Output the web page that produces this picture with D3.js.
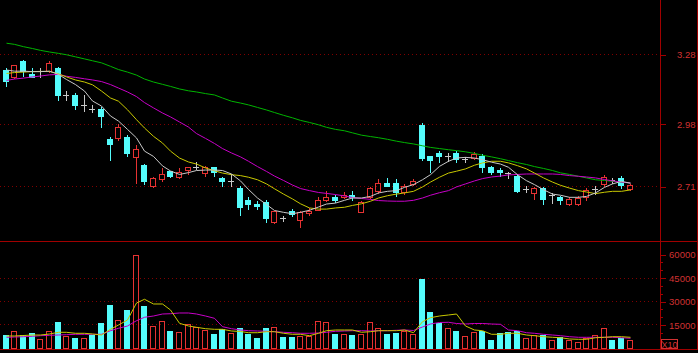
<!DOCTYPE html>
<html>
<head>
<meta charset="utf-8">
<script src="https://cdn.jsdelivr.net/npm/d3@7"></script>
<style>
  html, body { margin: 0; padding: 0; background: #000; overflow: hidden; }
  svg { display: block; }
</style>
</head>
<body>
<div id="chart"></div>
<script>
// daily candles, oldest first
const opens = [3.211, 3.180, 3.250, 3.196, 3.206, 3.206, 3.221, 3.103, 3.103, 3.062,
  3.045, 3.045, 2.913, 2.918, 2.922, 2.837, 2.802, 2.710, 2.742, 2.773,
  2.751, 2.781, 2.794, 2.768, 2.791, 2.743, 2.733, 2.701, 2.649, 2.633,
  2.641, 2.553, 2.570, 2.602, 2.562, 2.592, 2.607, 2.648, 2.661, 2.661,
  2.672, 2.599, 2.661, 2.690, 2.722, 2.722, 2.684, 2.719, 2.973, 2.841,
  2.853, 2.841, 2.853, 2.829, 2.831, 2.841, 2.791, 2.781, 2.765, 2.753,
  2.696, 2.681, 2.703, 2.671, 2.662, 2.630, 2.630, 2.661, 2.698, 2.717,
  2.735, 2.743, 2.698];
const highs = [3.221, 3.235, 3.255, 3.221, 3.221, 3.250, 3.225, 3.122, 3.113, 3.103,
  3.062, 3.051, 2.922, 2.978, 2.932, 2.889, 2.805, 2.750, 2.788, 2.775,
  2.788, 2.792, 2.812, 2.797, 2.794, 2.747, 2.760, 2.709, 2.661, 2.644,
  2.651, 2.603, 2.582, 2.610, 2.603, 2.615, 2.661, 2.687, 2.672, 2.684,
  2.690, 2.643, 2.706, 2.740, 2.745, 2.742, 2.719, 2.740, 2.981, 2.842,
  2.863, 2.853, 2.863, 2.835, 2.855, 2.849, 2.797, 2.790, 2.771, 2.762,
  2.712, 2.706, 2.706, 2.678, 2.667, 2.661, 2.665, 2.700, 2.710, 2.758,
  2.745, 2.754, 2.719];
const lows = [3.142, 3.178, 3.185, 3.180, 3.182, 3.203, 3.084, 3.084, 3.045, 3.033,
  3.030, 2.964, 2.824, 2.910, 2.841, 2.723, 2.719, 2.704, 2.733, 2.750,
  2.745, 2.764, 2.784, 2.753, 2.753, 2.712, 2.712, 2.584, 2.612, 2.612,
  2.553, 2.551, 2.560, 2.582, 2.533, 2.583, 2.606, 2.647, 2.641, 2.658,
  2.651, 2.597, 2.658, 2.680, 2.708, 2.665, 2.675, 2.716, 2.824, 2.771,
  2.814, 2.820, 2.814, 2.814, 2.827, 2.769, 2.761, 2.752, 2.743, 2.682,
  2.684, 2.652, 2.634, 2.635, 2.634, 2.629, 2.629, 2.649, 2.675, 2.710,
  2.723, 2.703, 2.693];
const closes = [3.166, 3.232, 3.206, 3.183, 3.206, 3.242, 3.103, 3.103, 3.062, 3.062,
  3.045, 3.013, 2.893, 2.964, 2.853, 2.871, 2.730, 2.745, 2.762, 2.753,
  2.769, 2.791, 2.794, 2.791, 2.772, 2.733, 2.733, 2.621, 2.633, 2.622,
  2.572, 2.601, 2.570, 2.590, 2.599, 2.603, 2.649, 2.661, 2.651, 2.672,
  2.661, 2.641, 2.701, 2.722, 2.711, 2.684, 2.711, 2.733, 2.831, 2.824,
  2.841, 2.841, 2.825, 2.829, 2.850, 2.792, 2.769, 2.769, 2.765, 2.690,
  2.696, 2.703, 2.652, 2.671, 2.649, 2.652, 2.658, 2.693, 2.698, 2.751,
  2.735, 2.713, 2.714];
const volumes = [8100, 10900, 7900, 9200, 5500, 10900, 16500, 7300, 6400, 6400,
  7900, 15600, 27400, 17800, 24200, 59400, 27000, 13700, 17100, 10700,
  10000, 15400, 13100, 11300, 8600, 11800, 9200, 12600, 8900, 6400,
  12400, 13100, 6600, 7000, 7700, 7700, 16900, 16300, 8900, 8600,
  8100, 8600, 16300, 12400, 8600, 9600, 10900, 8900, 44200, 22900,
  15600, 12400, 10700, 7500, 10000, 10900, 5100, 9400, 10000, 10900,
  6400, 7900, 7900, 5100, 6800, 4900, 3800, 6400, 7900, 12400,
  5100, 6000, 5100];

// moving averages as shown by the terminal
const ma5 = [3.212, 3.207, 3.207, 3.205, 3.205, 3.207, 3.193, 3.171, 3.149, 3.121,
  3.078, 3.056, 3.013, 2.991, 2.955, 2.918, 2.861, 2.838, 2.797, 2.775,
  2.760, 2.768, 2.777, 2.779, 2.779, 2.777, 2.762, 2.732, 2.695, 2.658,
  2.630, 2.604, 2.596, 2.590, 2.596, 2.605, 2.619, 2.632, 2.636, 2.648,
  2.658, 2.658, 2.665, 2.680, 2.687, 2.690, 2.704, 2.716, 2.737, 2.759,
  2.795, 2.817, 2.831, 2.834, 2.831, 2.824, 2.813, 2.805, 2.791, 2.759,
  2.733, 2.716, 2.694, 2.675, 2.670, 2.661, 2.661, 2.665, 2.680, 2.704,
  2.719, 2.730, 2.722];
const ma10 = [3.197, 3.201, 3.203, 3.205, 3.206, 3.206, 3.195, 3.182, 3.169, 3.160,
  3.148, 3.121, 3.091, 3.077, 3.040, 2.997, 2.961, 2.925, 2.896, 2.861,
  2.831, 2.814, 2.805, 2.788, 2.776, 2.766, 2.759, 2.755, 2.748, 2.737,
  2.719, 2.698, 2.675, 2.654, 2.633, 2.615, 2.610, 2.610, 2.615, 2.618,
  2.626, 2.633, 2.644, 2.658, 2.668, 2.675, 2.680, 2.687, 2.706, 2.727,
  2.748, 2.766, 2.774, 2.784, 2.800, 2.810, 2.817, 2.817, 2.810, 2.798,
  2.784, 2.766, 2.745, 2.727, 2.713, 2.701, 2.690, 2.684, 2.677, 2.683,
  2.687, 2.687, 2.693];
const ma20 = [3.167, 3.173, 3.177, 3.182, 3.186, 3.191, 3.193, 3.185, 3.180, 3.174,
  3.169, 3.162, 3.149, 3.134, 3.117, 3.097, 3.071, 3.048, 3.026, 3.009,
  2.987, 2.965, 2.937, 2.916, 2.894, 2.872, 2.853, 2.836, 2.817, 2.794,
  2.773, 2.753, 2.734, 2.714, 2.699, 2.690, 2.682, 2.678, 2.673, 2.667,
  2.660, 2.656, 2.652, 2.647, 2.645, 2.644, 2.644, 2.648, 2.658, 2.670,
  2.681, 2.690, 2.706, 2.719, 2.732, 2.742, 2.749, 2.753, 2.758, 2.760,
  2.762, 2.762, 2.762, 2.762, 2.760, 2.755, 2.752, 2.749, 2.745, 2.738,
  2.732, 2.727, 2.723];
const ma60 = [3.328, 3.323, 3.313, 3.305, 3.297, 3.290, 3.284, 3.278, 3.269, 3.260,
  3.252, 3.243, 3.228, 3.214, 3.203, 3.190, 3.173, 3.160, 3.150, 3.141,
  3.130, 3.122, 3.117, 3.110, 3.104, 3.091, 3.077, 3.069, 3.061, 3.050,
  3.039, 3.028, 3.016, 3.005, 2.994, 2.985, 2.975, 2.964, 2.955, 2.949,
  2.940, 2.930, 2.924, 2.919, 2.912, 2.904, 2.898, 2.892, 2.884, 2.877,
  2.872, 2.867, 2.863, 2.858, 2.851, 2.843, 2.836, 2.828, 2.820, 2.811,
  2.803, 2.794, 2.786, 2.777, 2.767, 2.760, 2.752, 2.745, 2.737, 2.734,
  2.730, 2.727, 2.723];
const volMa5 = [7470, 7470, 7790, 8110, 8110, 8760, 9850, 9850, 9210, 9210,
  8760, 8110, 11780, 14550, 17770, 28710, 31100, 28070, 28070, 24210,
  15640, 13910, 13070, 12170, 11780, 11780, 10690, 10370, 9590, 9590,
  10240, 10240, 9210, 8560, 8560, 7660, 9210, 10880, 11330, 11330,
  11330, 9850, 10240, 10880, 10880, 10880, 11330, 9590, 16670, 19250,
  20340, 20990, 21630, 13910, 11330, 10880, 8560, 8560, 9210, 9210,
  8110, 7660, 7020, 6630, 6370, 5540, 5340, 5340, 6370, 6630,
  7020, 7020, 6630];
const volMa10 = [6630, 6820, 7020, 7270, 7660, 7920, 8110, 8310, 8560, 8560,
  8560, 8560, 10880, 12430, 13910, 17320, 19510, 20340, 21630, 21820,
  22280, 22280, 21630, 20340, 18860, 13460, 12170, 11330, 10880, 10690,
  10490, 10240, 9850, 9590, 9210, 9210, 9400, 9850, 10490, 10690,
  10880, 10880, 10690, 10880, 10880, 11140, 11330, 11010, 13260, 15190,
  16160, 16290, 15520, 15190, 15520, 15520, 15190, 15000, 11330, 10880,
  9590, 9210, 8560, 8110, 7660, 7020, 6630, 6630, 6630, 6630,
  6630, 6370, 5990];

const priceTicks = [3.28, 2.98, 2.71];
const volumeTicks = [15000, 30000, 45000, 60000];
const volumeGridTicks = [15000, 30000, 45000];
const volumeMinorTicks = [5000, 10000, 20000, 25000, 35000, 40000, 50000, 55000];

const colors = {
  up: '#e63232',
  down: '#54fcfc',
  flat: '#c8c8c8',
  axis: '#a00000',
  grid: '#800000',
  text: '#d23232',
  ma5: '#c8c8c8',
  ma10: '#c8c800',
  ma20: '#c800c8',
  ma60: '#00b400',
};

function drawChart(divId) {
  const width = 698;
  const height = 353;
  const axisX = 660;
  const divider = 241;
  const bottom = 350;
  const slots = 76; // room for a few more days on the right

  const svg = d3.select(`#${divId}`)
    .append('svg')
    .attr('width', width)
    .attr('height', height)
    .style('background', '#000');

  const x = d3.scaleBand()
    .domain(d3.range(slots))
    .range([1.5, axisX])
    .paddingInner(0.3)
    .paddingOuter(0.15);

  const yPrice = d3.scaleLinear()
    .domain([2.71, 3.28])
    .range([186, 54.3]);

  const yVol = d3.scaleLinear()
    .domain([0, 60000])
    .range([347.6, 254.4]);

  const cx = i => Math.round(x(i) + x.bandwidth() / 2);
  const py = v => Math.round(yPrice(v));
  const vy = v => Math.round(yVol(v));

  const candles = opens.map((o, i) => ({
    i,
    o,
    h: highs[i],
    l: lows[i],
    c: closes[i],
    v: volumes[i],
  }));
  const dir = d => (d.c > d.o ? 1 : (d.c < d.o ? -1 : 0));
  const volDir = (d) => {
    const k = dir(d);
    if (k !== 0) return k;
    return d.i > 0 && d.c < closes[d.i - 1] ? -1 : 1;
  };

  // frame
  const frame = svg.append('g')
    .attr('stroke', colors.axis)
    .attr('stroke-width', 1)
    .attr('shape-rendering', 'crispEdges');
  frame.append('line')
    .attr('x1', 0).attr('x2', width)
    .attr('y1', divider + 0.5).attr('y2', divider + 0.5);
  frame.append('line')
    .attr('x1', 0).attr('x2', width)
    .attr('y1', bottom - 0.5).attr('y2', bottom - 0.5);
  frame.append('line')
    .attr('x1', axisX + 0.5).attr('x2', axisX + 0.5)
    .attr('y1', 0).attr('y2', bottom);
  frame.append('line')
    .attr('x1', width - 0.5).attr('x2', width - 0.5)
    .attr('y1', 0).attr('y2', bottom);

  // dotted grid
  const grid = svg.append('g')
    .attr('stroke', colors.grid)
    .attr('stroke-dasharray', '1,3')
    .attr('shape-rendering', 'crispEdges');
  grid.selectAll('.pg')
    .data(priceTicks)
    .enter()
    .append('line')
    .attr('x1', 0)
    .attr('x2', axisX)
    .attr('y1', d => py(d) + 0.5)
    .attr('y2', d => py(d) + 0.5);
  grid.selectAll('.vg')
    .data(volumeGridTicks)
    .enter()
    .append('line')
    .attr('x1', 0)
    .attr('x2', axisX)
    .attr('y1', d => vy(d) + 0.5)
    .attr('y2', d => vy(d) + 0.5);

  // volume bars
  const vol = svg.append('g').attr('shape-rendering', 'crispEdges');
  vol.selectAll('.vdown')
    .data(candles.filter(d => volDir(d) < 0))
    .enter()
    .append('rect')
    .attr('x', d => cx(d.i) - 3)
    .attr('y', d => vy(d.v))
    .attr('width', 6)
    .attr('height', d => vy(0) - vy(d.v) + 1)
    .attr('fill', colors.down);
  vol.selectAll('.vup')
    .data(candles.filter(d => volDir(d) > 0))
    .enter()
    .append('rect')
    .attr('x', d => cx(d.i) - 2.5)
    .attr('y', d => vy(d.v) + 0.5)
    .attr('width', 5)
    .attr('height', d => vy(0) - vy(d.v))
    .attr('fill', 'none')
    .attr('stroke', colors.up);

  // candles
  const cg = svg.append('g').attr('shape-rendering', 'crispEdges');

  const downs = cg.selectAll('.down')
    .data(candles.filter(d => dir(d) < 0))
    .enter()
    .append('g');
  downs.append('line')
    .attr('x1', d => cx(d.i) + 0.5)
    .attr('x2', d => cx(d.i) + 0.5)
    .attr('y1', d => py(d.h))
    .attr('y2', d => py(d.l) + 1)
    .attr('stroke', colors.down);
  downs.append('rect')
    .attr('x', d => cx(d.i) - 3)
    .attr('y', d => py(d.o))
    .attr('width', 6)
    .attr('height', d => Math.max(1, py(d.c) - py(d.o) + 1))
    .attr('fill', colors.down);

  const ups = cg.selectAll('.up')
    .data(candles.filter(d => dir(d) > 0))
    .enter()
    .append('g');
  ups.append('line')
    .attr('x1', d => cx(d.i) + 0.5)
    .attr('x2', d => cx(d.i) + 0.5)
    .attr('y1', d => py(d.h))
    .attr('y2', d => py(d.c))
    .attr('stroke', colors.up);
  ups.append('line')
    .attr('x1', d => cx(d.i) + 0.5)
    .attr('x2', d => cx(d.i) + 0.5)
    .attr('y1', d => py(d.o) + 1)
    .attr('y2', d => py(d.l) + 1)
    .attr('stroke', colors.up);
  ups.append('rect')
    .attr('x', d => cx(d.i) - 2.5)
    .attr('y', d => py(d.c) + 0.5)
    .attr('width', 5)
    .attr('height', d => Math.max(1, py(d.o) - py(d.c)))
    .attr('fill', 'none')
    .attr('stroke', colors.up);

  const flats = cg.selectAll('.flat')
    .data(candles.filter(d => dir(d) === 0))
    .enter()
    .append('g')
    .attr('stroke', colors.flat);
  flats.append('line')
    .attr('x1', d => cx(d.i) + 0.5)
    .attr('x2', d => cx(d.i) + 0.5)
    .attr('y1', d => py(d.h))
    .attr('y2', d => py(d.l) + 1);
  flats.append('line')
    .attr('x1', d => cx(d.i) - 3)
    .attr('x2', d => cx(d.i) + 3)
    .attr('y1', d => py(d.o) + 0.5)
    .attr('y2', d => py(d.o) + 0.5);

  // moving averages
  const priceLine = d3.line()
    .x((d, i) => cx(i) + 0.5)
    .y(d => yPrice(d));
  const volLine = d3.line()
    .x((d, i) => cx(i) + 0.5)
    .y(d => yVol(d));

  [[ma60, colors.ma60], [ma20, colors.ma20], [ma10, colors.ma10], [ma5, colors.ma5]]
    .forEach(([series, color]) => {
      svg.append('path')
        .datum(series)
        .attr('fill', 'none')
        .attr('stroke', color)
        .attr('stroke-width', 1)
        .attr('d', priceLine);
    });

  [[volMa10, colors.ma20], [volMa5, colors.ma10]]
    .forEach(([series, color]) => {
      svg.append('path')
        .datum(series)
        .attr('fill', 'none')
        .attr('stroke', color)
        .attr('stroke-width', 1)
        .attr('d', volLine);
    });

  // right axes
  const priceAxis = svg.append('g')
    .attr('transform', `translate(${axisX + 0.5}, 0.5)`)
    .call(d3.axisRight(yPrice.copy().range(yPrice.range().map(Math.round)))
      .tickValues(priceTicks)
      .tickSize(5)
      .tickFormat(d3.format('.2f')));

  const volAxis = svg.append('g')
    .attr('transform', `translate(${axisX + 0.5}, 0.5)`)
    .call(d3.axisRight(yVol.copy().range(yVol.range().map(Math.round)))
      .tickValues(volumeTicks)
      .tickSize(5)
      .tickFormat(d3.format('d')));

  svg.append('g')
    .attr('transform', `translate(${axisX + 0.5}, 0.5)`)
    .call(d3.axisRight(yVol.copy().range(yVol.range().map(Math.round)))
      .tickValues(volumeMinorTicks)
      .tickSize(2)
      .tickFormat(''));

  svg.selectAll('.domain').remove();
  svg.selectAll('.tick line')
    .attr('stroke', colors.axis)
    .attr('shape-rendering', 'crispEdges');

  [priceAxis, volAxis].forEach((axis) => {
    axis.selectAll('text')
      .attr('x', 35)
      .attr('text-anchor', 'end')
      .attr('fill', colors.text)
      .style('font-family', 'Liberation Sans, Arial, sans-serif')
      .style('font-size', '9.5px');
  });

  // volume unit
  svg.append('rect')
    .attr('x', axisX + 1.5)
    .attr('y', 339.5)
    .attr('width', 16)
    .attr('height', 9)
    .attr('fill', 'none')
    .attr('stroke', colors.text)
    .attr('shape-rendering', 'crispEdges');
  svg.append('text')
    .attr('x', axisX + 9.5)
    .attr('y', 347.5)
    .attr('text-anchor', 'middle')
    .attr('fill', colors.text)
    .style('font-family', 'Liberation Sans, Arial, sans-serif')
    .style('font-size', '9px')
    .text('X10');
}

drawChart('chart');
</script>
</body>
</html>
